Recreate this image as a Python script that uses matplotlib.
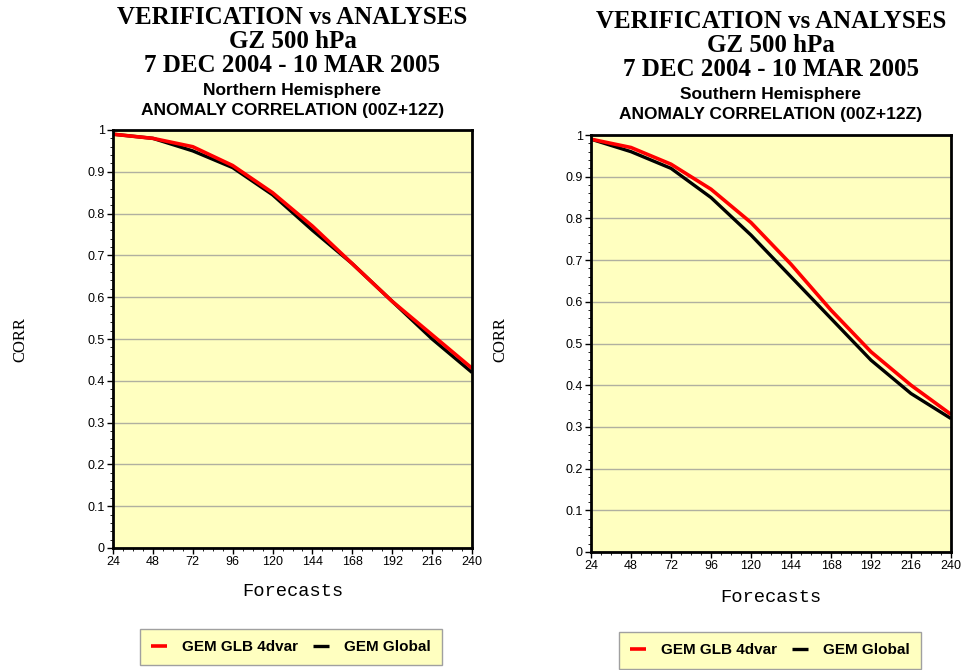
import matplotlib
matplotlib.use("Agg")
import matplotlib.pyplot as plt
from matplotlib.ticker import AutoMinorLocator, FixedLocator

# forecast hours
hours = [24, 48, 72, 96, 120, 144, 168, 192, 216, 240]

# Northern Hemisphere anomaly correlation
nh_4dvar = [0.99, 0.98, 0.96, 0.915, 0.85, 0.77, 0.68, 0.59, 0.51, 0.43]
nh_global = [0.99, 0.98, 0.95, 0.91, 0.845, 0.76, 0.68, 0.59, 0.50, 0.42]

# Southern Hemisphere anomaly correlation
sh_4dvar = [0.99, 0.97, 0.93, 0.87, 0.79, 0.69, 0.58, 0.48, 0.40, 0.33]
sh_global = [0.99, 0.96, 0.92, 0.85, 0.76, 0.66, 0.56, 0.46, 0.38, 0.32]

yticks = [0, 0.1, 0.2, 0.3, 0.4, 0.5, 0.6, 0.7, 0.8, 0.9, 1.0]
ytick_labels = ["0", "0.1", "0.2", "0.3", "0.4", "0.5", "0.6", "0.7", "0.8", "0.9", "1"]

SERIF = "Liberation Serif"
SANS = "Liberation Sans"
MONO = "Liberation Mono"
BG = "#ffffc0"

W, H = 965, 670
fig = plt.figure(figsize=(W / 100, H / 100), dpi=100)


def px(x0, y0, x1, y1):
    # pixel box -> figure fraction rect
    return [x0 / W, 1 - y1 / H, (x1 - x0) / W, (y1 - y0) / H]


def panel(rect, hemi, red, black, title_y, ylab_x, xlab_y, leg_box):
    ax = fig.add_axes(rect)
    ax.set_facecolor(BG)
    blk, = ax.plot(hours, black, color="black", lw=2.4, solid_capstyle="butt")
    rd, = ax.plot(hours, red, color="#ff0000", lw=2.6, solid_capstyle="butt")
    ax.set_xlim(24, 240)
    ax.set_ylim(0, 1)
    ax.xaxis.set_major_locator(FixedLocator(hours))
    ax.set_yticks(yticks)
    ax.set_yticklabels(ytick_labels)
    ax.xaxis.set_minor_locator(AutoMinorLocator(4))
    ax.yaxis.set_minor_locator(AutoMinorLocator(5))
    ax.tick_params(which="major", direction="out", length=4, width=1,
                   labelsize=9, pad=2)
    ax.tick_params(which="minor", direction="out", length=2, width=0.6)
    for lab in ax.get_xticklabels() + ax.get_yticklabels():
        lab.set_fontfamily(SANS)
    ax.grid(True, axis="y", color="#b0b0a0", lw=1)
    ax.set_axisbelow(True)
    for sp in ax.spines.values():
        sp.set_linewidth(2)

    cx = (rect[0] + rect[2] / 2) * W
    for i, line in enumerate(["VERIFICATION vs ANALYSES", "GZ 500 hPa",
                              "7 DEC 2004 - 10 MAR 2005"]):
        fig.text(cx / W, 1 - (title_y + 23.5 * i) / H, line, ha="center",
                 va="center", fontfamily=SERIF, fontweight="bold", fontsize=18)
    fig.text(cx / W, 1 - (title_y + 73) / H, hemi, ha="center", va="center",
             fontfamily=SANS, fontweight="bold", fontsize=12.5)
    fig.text(cx / W, 1 - (title_y + 92) / H, "ANOMALY CORRELATION (00Z+12Z)",
             ha="center", va="center", fontfamily=SANS, fontweight="bold",
             fontsize=12.5)

    fig.text(ylab_x / W, 1 - 340 / H, "CORR", rotation=90, ha="center",
             va="center", fontfamily=SERIF, fontsize=12)
    fig.text(cx / W, 1 - xlab_y / H, "Forecasts", ha="center", va="center",
             fontfamily=MONO, fontsize=13.5)

    lx0, ly0, lx1, ly1 = leg_box
    leg = ax.legend([rd, blk], ["GEM GLB 4dvar", "GEM Global"], ncol=2,
                    loc="center", bbox_to_anchor=((lx0 + lx1) / 2 / W,
                                                  1 - (ly0 + ly1) / 2 / H),
                    bbox_transform=fig.transFigure, frameon=True,
                    fancybox=False, handlelength=1.0, handletextpad=1.0,
                    columnspacing=1.0, borderpad=0.75,
                    prop={"family": SANS, "weight": "bold", "size": 11})
    leg.get_frame().set_facecolor(BG)
    leg.get_frame().set_edgecolor("#a0a0a0")
    leg.get_frame().set_linewidth(1)
    leg.get_frame().set_alpha(1)
    return ax


panel(px(113, 130, 472, 548), "Northern Hemisphere", nh_4dvar, nh_global,
      title_y=18, ylab_x=20, xlab_y=592, leg_box=(137, 628, 445, 666))
panel(px(591, 135, 951, 552), "Southern Hemisphere", sh_4dvar, sh_global,
      title_y=22, ylab_x=500, xlab_y=598, leg_box=(610, 633, 930, 668))

fig.savefig("out.png", dpi=100, facecolor="white")
